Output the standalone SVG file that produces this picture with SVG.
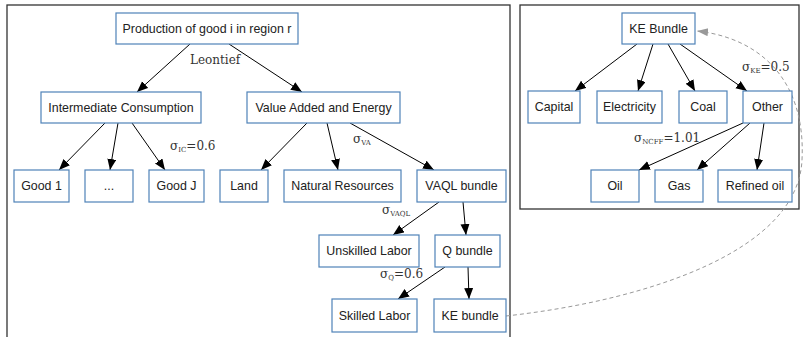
<svg xmlns="http://www.w3.org/2000/svg" width="805" height="337" viewBox="0 0 805 337">
<defs>
<marker id="arr" markerUnits="userSpaceOnUse" markerWidth="12" markerHeight="10" refX="11" refY="4.5" orient="auto">
<path d="M0,0 L11,4.5 L0,9 Z" fill="#000"/>
</marker>
<marker id="garr" markerUnits="userSpaceOnUse" markerWidth="12" markerHeight="10" refX="11" refY="4" orient="auto">
<path d="M0,0 L11,4 L0,8 Z" fill="#999"/>
</marker>
</defs>
<style>
.frame{fill:none;stroke:#333;stroke-width:1.3}
.box{fill:#fff;stroke:#4f82b8;stroke-width:1.2}
.t{font-family:"Liberation Sans",Arial,sans-serif;font-size:12.4px;fill:#222;text-anchor:middle}
.lbl{font-family:"DejaVu Serif",serif;font-size:12px;fill:#333}
.sub{font-size:7px}
.e{stroke:#000;stroke-width:1;fill:none;marker-end:url(#arr)}
.d{stroke:#999;stroke-width:1;fill:none;stroke-dasharray:4,3;marker-end:url(#garr)}
</style>
<rect class="frame" x="7" y="5" width="503" height="340"/>
<rect class="frame" x="520" y="5" width="279" height="204"/>

<g id="connectors">
<line class="e" x1="190" y1="44" x2="137" y2="92"/>
<line class="e" x1="229" y1="44" x2="302" y2="92"/>
<line class="e" x1="105" y1="123" x2="59" y2="170"/>
<line class="e" x1="118" y1="123" x2="110" y2="170"/>
<line class="e" x1="132" y1="123" x2="165" y2="170"/>
<line class="e" x1="307" y1="123" x2="261" y2="170"/>
<line class="e" x1="327" y1="123" x2="338" y2="170"/>
<line class="e" x1="350" y1="123" x2="434" y2="170"/>
<line class="e" x1="439" y1="202" x2="393" y2="235"/>
<line class="e" x1="463" y1="202" x2="466" y2="235"/>
<line class="e" x1="445" y1="267" x2="398" y2="299"/>
<line class="e" x1="468" y1="267" x2="469" y2="299"/>
<line class="e" x1="637" y1="44" x2="575" y2="91"/>
<line class="e" x1="653" y1="44" x2="638" y2="91"/>
<line class="e" x1="668" y1="44" x2="695" y2="91"/>
<line class="e" x1="680" y1="44" x2="747" y2="91"/>
<line class="e" x1="743" y1="123" x2="639" y2="170"/>
<line class="e" x1="750" y1="123" x2="697" y2="170"/>
<line class="e" x1="764" y1="123" x2="757" y2="170"/>
<path class="d" d="M506,316 C650,300 798,250 802,160 C806,80 760,38 697,31"/>
</g>

<g id="n-prod"><rect class="box" x="116" y="13" width="182" height="31"/><text class="t" x="207" y="33">Production of good i in region r</text></g>
<g id="n-ic"><rect class="box" x="41" y="92" width="160" height="31"/><text class="t" x="121" y="112">Intermediate Consumption</text></g>
<g id="n-vae"><rect class="box" x="247" y="92" width="153" height="31"/><text class="t" x="323.5" y="112">Value Added and Energy</text></g>
<g id="n-good1"><rect class="box" x="14" y="170" width="55" height="32"/><text class="t" x="41.5" y="190">Good 1</text></g>
<g id="n-dots"><rect class="box" x="85" y="170" width="48" height="32"/><text class="t" x="109" y="190">...</text></g>
<g id="n-goodj"><rect class="box" x="149" y="170" width="55" height="32"/><text class="t" x="176.5" y="190">Good J</text></g>
<g id="n-land"><rect class="box" x="220" y="170" width="48" height="32"/><text class="t" x="244" y="190">Land</text></g>
<g id="n-natres"><rect class="box" x="284" y="170" width="117" height="32"/><text class="t" x="342.5" y="190">Natural Resources</text></g>
<g id="n-vaql"><rect class="box" x="417" y="170" width="89" height="32"/><text class="t" x="461.5" y="190">VAQL bundle</text></g>
<g id="n-unsk"><rect class="box" x="319" y="235" width="100" height="32"/><text class="t" x="369" y="255">Unskilled Labor</text></g>
<g id="n-q"><rect class="box" x="435" y="235" width="65" height="32"/><text class="t" x="467.5" y="255">Q bundle</text></g>
<g id="n-skl"><rect class="box" x="332" y="299" width="85" height="33"/><text class="t" x="374.5" y="320">Skilled Labor</text></g>
<g id="n-ke"><rect class="box" x="434" y="299" width="72" height="33"/><text class="t" x="470" y="320">KE bundle</text></g>

<g id="n-keb"><rect class="box" x="622" y="13" width="73" height="31"/><text class="t" x="658.5" y="33">KE Bundle</text></g>
<g id="n-cap"><rect class="box" x="528" y="91" width="52" height="32"/><text class="t" x="554" y="111">Capital</text></g>
<g id="n-elec"><rect class="box" x="597" y="91" width="65" height="32"/><text class="t" x="629.5" y="111">Electricity</text></g>
<g id="n-coal"><rect class="box" x="679" y="91" width="48" height="32"/><text class="t" x="703" y="111">Coal</text></g>
<g id="n-other"><rect class="box" x="743" y="91" width="49" height="32"/><text class="t" x="767.5" y="111">Other</text></g>
<g id="n-oil"><rect class="box" x="591" y="170" width="48" height="32"/><text class="t" x="615" y="190">Oil</text></g>
<g id="n-gas"><rect class="box" x="655" y="170" width="48" height="32"/><text class="t" x="679" y="190">Gas</text></g>
<g id="n-ref"><rect class="box" x="718" y="170" width="74" height="32"/><text class="t" x="755" y="190">Refined oil</text></g>

<g id="labels">
<text class="lbl" x="190" y="64">Leontief</text>
<text class="lbl" x="170" y="150">σ<tspan class="sub" dy="2">IC</tspan><tspan dy="-2">=0.6</tspan></text>
<text class="lbl" x="353" y="143">σ<tspan class="sub" dy="2">VA</tspan></text>
<text class="lbl" x="382" y="214">σ<tspan class="sub" dy="2">VAQL</tspan></text>
<text class="lbl" x="380" y="278">σ<tspan class="sub" dy="2">Q</tspan><tspan dy="-2">=0.6</tspan></text>
<text class="lbl" x="742" y="71">σ<tspan class="sub" dy="2">KE</tspan><tspan dy="-2">=0.5</tspan></text>
<text class="lbl" x="634" y="142">σ<tspan class="sub" dy="2">NCFF</tspan><tspan dy="-2">=1.01</tspan></text>
</g>
</svg>
